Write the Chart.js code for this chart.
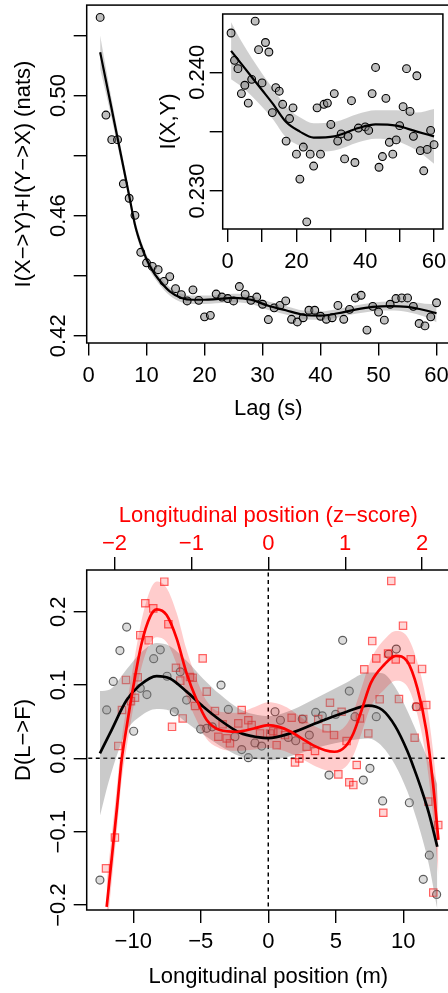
<!DOCTYPE html>
<html><head><meta charset="utf-8">
<script src="https://cdn.jsdelivr.net/npm/chart.js@4.4.1/dist/chart.umd.min.js"></script>
<style>
html,body{margin:0;padding:0;background:#fff;overflow:hidden;width:448px;height:993px;}
canvas{position:absolute;}
</style></head><body>
<canvas id="c1" width="460" height="430" style="left:0;top:0;width:460px;height:430px"></canvas>
<canvas id="c2" width="308" height="280" style="left:140px;top:0;width:308px;height:280px"></canvas>
<canvas id="c3" width="460" height="513" style="left:0;top:480px;width:460px;height:513px"></canvas>
<script>
// ---------- Top panel: I(X->Y)+I(Y->X) vs lag ----------
const mainLag = [2,3,4,5,6,7,8,9,10,11,12,13,14,15,16,17,18,19,20,21,22,23,24,25,26,27,28,29,30,31,32,33,34,35,36,37,38,39,40,41,42,43,44,45,46,47,48,49,50,51,52,53,54,55,56,57,58,59,60];
const mainMI = [0.526,0.4935,0.4853,0.4853,0.4706,0.4658,0.4601,0.4478,0.4443,0.4431,0.4420,0.4381,0.4397,0.4357,0.4337,0.4316,0.4353,0.4318,0.4263,0.4268,0.4339,0.4329,0.4324,0.4316,0.4364,0.4338,0.4318,0.4329,0.4305,0.4254,0.4293,0.4301,0.4316,0.4255,0.4246,0.4260,0.4285,0.4285,0.4265,0.4255,0.4260,0.4301,0.4255,0.4288,0.4326,0.4335,0.4219,0.4298,0.4279,0.4252,0.4305,0.4324,0.4326,0.4326,0.4298,0.4241,0.4233,0.4263,0.4310];
const mainFitLag = [2,3,4,5,6,7,8,9,10,11,12,14,16,18,20,22,25,28,31,34,37,40,43,46,49,52,55,58,60];
const mainFitMI = [0.5144,0.5049,0.4954,0.4858,0.4763,0.4667,0.4570,0.4505,0.4455,0.4418,0.4390,0.4348,0.4326,0.4320,0.4320,0.4322,0.4326,0.4320,0.4300,0.4285,0.4270,0.4267,0.4275,0.4287,0.4296,0.4299,0.4296,0.4285,0.4275];
const mainFitSE = [0.0056,0.0042,0.0032,0.0026,0.0022,0.0019,0.0017,0.0016,0.0015,0.0015,0.0014,0.0014,0.0014,0.0014,0.0014,0.0014,0.0014,0.0014,0.0014,0.0014,0.0014,0.0014,0.0014,0.0014,0.0014,0.0015,0.0017,0.0022,0.0030];
const mainXTicks = [0,10,20,30,40,50,60];
const mainXTickText = ['0','10','20','30','40','50','60'];
const mainYTicks = [0.42,0.44,0.46,0.48,0.50,0.52];
const mainYTickText = ['0.42','','0.46','','0.50',''];

// ---------- Inset: I(X,Y) vs lag ----------
const insetLag = [1,2,3,4,5,6,7,8,9,10,11,12,13,14,15,16,17,18,19,20,21,22,23,24,25,26,27,28,29,30,31,32,33,34,35,36,37,38,40,41,42,43,44,45,46,47,48,49,50,51,52,53,54,55,56,57,58,59,60];
const insetMI = [0.2433,0.2410,0.2403,0.2382,0.2389,0.2374,0.2394,0.2443,0.2419,0.2391,0.2425,0.2417,0.2366,0.2387,0.2384,0.2373,0.2342,0.2361,0.2370,0.2331,0.2310,0.2337,0.2274,0.2331,0.2321,0.2370,0.2331,0.2373,0.2374,0.2356,0.2382,0.2342,0.2348,0.2327,0.2346,0.2376,0.2324,0.2353,0.2354,0.2351,0.2382,0.2404,0.2320,0.2329,0.2378,0.2341,0.2331,0.2343,0.2355,0.2371,0.2403,0.2367,0.2346,0.2397,0.2334,0.2317,0.2335,0.2351,0.2339];
const insetFitLag = [1,4,7,10,13,17,21,25,31,38,43,49,55,60];
const insetFitMI = [0.2418,0.2407,0.2396,0.2385,0.2374,0.2358,0.2350,0.2345,0.2346,0.2353,0.2356,0.2355,0.2350,0.2346];
const insetFitSE = [0.0024,0.0019,0.0016,0.0014,0.0013,0.0013,0.0012,0.0012,0.0012,0.0012,0.0012,0.0013,0.0016,0.0023];
const insetXTicks = [0,10,20,30,40,50,60];
const insetXTickText = ['0','','20','','40','','60'];
const insetYTicks = [0.230,0.235,0.240];
const insetYTickText = ['0.230','','0.240'];

// ---------- Bottom panel: D(L->F) vs longitudinal position ----------
const blackPos = [-12.47,-11.97,-11.48,-10.99,-10.49,-9.97,-9.48,-8.99,-8.49,-8.0,-7.5,-6.96,-6.52,-6.05,-5.01,-4.56,-4.15,-3.5,-2.96,-2.47,-1.97,-1.48,-0.99,-0.49,0.5,0.9,1.48,2.03,2.52,3.04,3.51,4.0,4.5,4.99,5.51,6.0,6.42,7.04,7.53,8.0,8.47,8.92,9.48,10.45,10.96,11.48,11.93,12.47];
const blackD = [-0.166,0.066,0.105,0.147,0.179,0.037,0.0955,0.087,0.136,0.148,0.112,0.0636,0.118,0.0795,0.040,0.041,0.043,0.100,0.0668,0.0295,0.012,0.001,0.021,0.0168,0.0636,0.052,0.0286,0.024,0.0536,0.0318,0.0627,0.058,-0.0228,0.060,0.161,0.0918,0.0568,-0.0296,-0.0136,0.0568,-0.058,0.142,0.149,-0.0605,0.0704,-0.165,-0.132,-0.1855];
const redPos = [-12.02,-11.36,-11.11,-10.84,-10.54,-10.17,-9.87,-9.67,-9.48,-9.11,-8.86,-8.52,-7.7,-7.4,-7.13,-6.84,-6.52,-6.34,-5.8,-5.6,-5.43,-4.86,-4.56,-3.95,-3.7,-3.38,-3.08,-2.84,-2.22,-1.97,-1.48,-1.23,-0.61,0.13,0.37,0.62,0.74,1.24,1.73,1.98,2.3,2.59,2.84,3.46,3.7,4.32,4.57,4.87,5.19,5.43,5.8,6.0,6.3,6.55,6.79,7.11,7.41,7.7,8.0,8.25,8.52,8.87,9.11,9.44,9.68,9.98,10.55,10.84,11.01,11.39,11.7,11.85,12.22,12.59];
const redD = [-0.15,-0.108,0.017,0.066,0.107,0.078,0.0827,0.1105,0.168,0.2115,0.161,0.2046,0.241,0.183,0.043,0.1236,0.106,0.0545,0.111,0.110,0.0714,0.1364,0.091,0.0645,0.0295,0.0464,0.0273,0.0205,0.0477,0.066,0.052,0.0454,0.034,0.034,0.037,0.018,0.0355,0.0318,0.0554,-0.0055,0.0,0.0536,0.0159,0.01,0.0536,0.041,0.0759,0.0318,-0.0218,0.0636,0.0236,-0.0327,-0.0364,-0.0091,0.0545,0.1214,0.034,0.160,0.1364,0.0805,-0.0742,0.143,0.242,0.135,0.0809,0.181,0.135,0.0281,0.0704,0.122,0.0727,-0.059,-0.183,-0.091];
const blackFitPos = [-12.47,-11.73,-10.49,-9.5,-8.27,-7.28,-6.05,-4.81,-3.58,-2.1,-0.8,0.0,1.61,4.07,5.81,7.4,8.45,9.4,10.3,10.8,11.3,11.9,12.52];
const blackFitD = [0.0068,0.034,0.0795,0.100,0.1123,0.109,0.091,0.0704,0.0523,0.035,0.029,0.0275,0.034,0.052,0.0636,0.072,0.066,0.044,0.010,-0.014,-0.040,-0.075,-0.1206];
const blackFitSE = [0.085,0.06,0.042,0.043,0.045,0.044,0.042,0.038,0.035,0.032,0.030,0.030,0.031,0.035,0.040,0.045,0.050,0.053,0.055,0.058,0.062,0.070,0.085];
const redFitPos = [-11.97,-11.6,-11.2,-10.86,-10.49,-10.0,-9.38,-8.76,-8.27,-7.53,-6.79,-6.05,-5.3,-4.56,-3.58,-2.34,-1.0,0.0,0.8,1.6,2.5,3.3,4.2,4.9,5.7,6.3,6.9,7.6,8.6,9.45,10.3,11.05,11.7,12.2,12.6];
const redFitD = [-0.2025,-0.137,-0.066,-0.002,0.043,0.0977,0.157,0.193,0.2033,0.1955,0.1637,0.116,0.0795,0.0523,0.0386,0.0363,0.041,0.0454,0.043,0.037,0.027,0.018,0.011,0.009,0.016,0.034,0.065,0.103,0.128,0.1398,0.132,0.095,0.0386,-0.034,-0.111];
const redFitSE = [0.035,0.032,0.03,0.028,0.028,0.029,0.032,0.036,0.038,0.037,0.035,0.032,0.028,0.026,0.025,0.026,0.029,0.031,0.031,0.030,0.028,0.027,0.027,0.027,0.028,0.030,0.031,0.032,0.034,0.034,0.034,0.036,0.040,0.045,0.050];
const posTicks = [-10,-5,0,5,10];
const posTickText = ['\u221210','\u22125','0','5','10'];
const zTicks = [-2,-1,0,1,2];
const zTickText = ['\u22122','\u22121','0','1','2'];
const dTicks = [-0.2,-0.1,0.0,0.1,0.2];
const dTickText = ['\u22120.2','\u22120.1','0.0','0.1','0.2'];
const M_PER_Z = 5.698;           // metres per z-score unit
const refVX = [0,0], refVY = [-1,1];       // vertical dashed line at x = 0
const refHX = [-20,20], refHY = [0,0];     // horizontal dashed line at y = 0

// ---------- helpers ----------
const FONT = '22px "Liberation Sans", Arial, Helvetica, sans-serif';
const pts = (xs, ys) => xs.map((x, i) => ({x, y: ys[i]}));
const band = (xs, ys, se, s) => xs.map((x, i) => ({x, y: ys[i] + s * se[i]}));

const rAxes = {
  id: 'rAxes',
  beforeDatasetsDraw(chart, args, o) {
    if (!o.white) return;
    const a = chart.chartArea, c = chart.ctx;
    c.save(); c.fillStyle = '#fff'; c.fillRect(a.left, a.top, a.right - a.left, a.bottom - a.top); c.restore();
  },
  afterDraw(chart, args, o) {
    const c = chart.ctx, a = chart.chartArea;
    c.save();
    c.strokeStyle = '#000'; c.lineWidth = 1.5;
    c.strokeRect(a.left, a.top, a.right - a.left, a.bottom - a.top);
    c.font = FONT; c.textBaseline = 'alphabetic'; c.textAlign = 'center';
    (o.labels || []).forEach(L => {
      const sc = chart.scales[L.scale];
      c.fillStyle = L.color || '#000';
      L.values.forEach((v, i) => {
        const t = L.text[i]; if (!t) return;
        const p = sc.getPixelForValue(v);
        if (L.side === 'left') {
          c.save(); c.translate(a.left - L.offset, p); c.rotate(-Math.PI / 2); c.fillText(t, 0, 0); c.restore();
        } else if (L.side === 'bottom') {
          c.fillText(t, p, a.bottom + L.offset);
        } else {
          c.fillText(t, p, a.top - L.offset);
        }
      });
    });
    (o.titles || []).forEach(T => {
      c.fillStyle = T.color || '#000';
      if (T.side === 'left') {
        c.save(); c.translate(T.x, (a.top + a.bottom) / 2); c.rotate(-Math.PI / 2); c.fillText(T.text, 0, 0); c.restore();
      } else if (T.side === 'bottom') {
        c.fillText(T.text, (a.left + a.right) / 2, a.bottom + T.offset);
      } else {
        c.fillText(T.text, (a.left + a.right) / 2, a.top - T.offset);
      }
    });
    c.restore();
  }
};

function axis(pos, min, max, ticks, size, tl, extra) {
  return Object.assign({
    type: 'linear', position: pos, min, max,
    afterBuildTicks: s => { s.ticks = ticks.map(v => ({value: v})); },
    afterFit: s => { if (pos === 'left' || pos === 'right') s.width = size; else s.height = size; },
    grid: {display: true, drawOnChartArea: false, drawTicks: true, tickLength: tl, color: '#000', lineWidth: 1.4},
    border: {display: false},
    ticks: {display: false}
  }, extra || {});
}

const baseOpts = (padding, scales, rcfg) => ({
  responsive: false, animation: false, devicePixelRatio: 1, events: [],
  layout: {padding},
  plugins: {legend: {display: false}, tooltip: {enabled: false}, rAxes: rcfg},
  scales
});

const lineDs = (data, color, w) => ({data, borderColor: color, borderWidth: w, pointRadius: 0, fill: false, cubicInterpolationMode: 'monotone'});
const bandHi = (data, color) => ({data, borderColor: 'rgba(0,0,0,0)', borderWidth: 0, pointRadius: 0, fill: '+1', backgroundColor: color, cubicInterpolationMode: 'monotone'});
const bandLo = (data) => ({data, borderColor: 'rgba(0,0,0,0)', borderWidth: 0, pointRadius: 0, fill: false, cubicInterpolationMode: 'monotone'});

// ---------- chart 1: main ----------
new Chart(document.getElementById('c1'), {
  type: 'line',
  data: {datasets: [
    lineDs(pts(mainFitLag, mainFitMI), '#000', 2.2),
    {data: pts(mainLag, mainMI), showLine: false, pointStyle: 'circle', pointRadius: 3.9, pointBackgroundColor: 'rgba(128,128,128,0.5)', pointBorderColor: '#000', pointBorderWidth: 1.1},
    bandHi(band(mainFitLag, mainFitMI, mainFitSE, 1), 'rgba(150,150,150,0.45)'),
    bandLo(band(mainFitLag, mainFitMI, mainFitSE, -1))
  ]},
  options: baseOpts({left: 0, top: 2.7, right: 10, bottom: 0}, {
    x: axis('bottom', -0.32, 62.32, mainXTicks, 87, 12.5),
    y: axis('left', 0.4176, 0.5301, mainYTicks, 86.7, 13)
  }, {
    labels: [
      {scale: 'y', side: 'left', values: mainYTicks, text: mainYTickText, offset: 22.2},
      {scale: 'x', side: 'bottom', values: mainXTicks, text: mainXTickText, offset: 38.7}
    ],
    titles: [
      {side: 'left', text: 'I(X\u2212>Y)+I(Y\u2212>X) (nats)', x: 29.5},
      {side: 'bottom', text: 'Lag (s)', offset: 72}
    ]
  }),
  plugins: [rAxes]
});

// ---------- chart 2: inset ----------
new Chart(document.getElementById('c2'), {
  type: 'line',
  data: {datasets: [
    lineDs(pts(insetFitLag, insetFitMI), '#000', 2.2),
    {data: pts(insetLag, insetMI), showLine: false, pointStyle: 'circle', pointRadius: 3.9, pointBackgroundColor: 'rgba(128,128,128,0.5)', pointBorderColor: '#000', pointBorderWidth: 1.1},
    bandHi(band(insetFitLag, insetFitMI, insetFitSE, 1), 'rgba(150,150,150,0.45)'),
    bandLo(band(insetFitLag, insetFitMI, insetFitSE, -1))
  ]},
  options: baseOpts({left: 0, top: 14, right: 1.3, bottom: 0}, {
    x: axis('bottom', -1.43, 62.57, insetXTicks, 51, 13),
    y: axis('left', 0.2268, 0.2449, insetYTicks, 82.7, 13)
  }, {
    white: true,
    labels: [
      {scale: 'y', side: 'left', values: insetYTicks, text: insetYTickText, offset: 19.2},
      {scale: 'x', side: 'bottom', values: insetXTicks, text: insetXTickText, offset: 39.3}
    ],
    titles: [
      {side: 'left', text: 'I(X,Y)', x: 35.3}
    ]
  }),
  plugins: [rAxes]
});

// ---------- chart 3: bottom ----------
const xMin = -13.45, xMax = 13.46;
new Chart(document.getElementById('c3'), {
  type: 'line',
  data: {datasets: [
    Object.assign(lineDs(pts(redFitPos, redFitD), '#ff0000', 2.7), {xAxisID: 'x'}),
    Object.assign(lineDs(pts(blackFitPos, blackFitD), '#000', 2.7), {xAxisID: 'x'}),
    Object.assign(bandHi(band(redFitPos, redFitD, redFitSE, 1), 'rgba(255,0,0,0.2)'), {xAxisID: 'x'}),
    Object.assign(bandLo(band(redFitPos, redFitD, redFitSE, -1)), {xAxisID: 'x'}),
    Object.assign(bandHi(band(blackFitPos, blackFitD, blackFitSE, 1), 'rgba(128,128,128,0.42)'), {xAxisID: 'x'}),
    Object.assign(bandLo(band(blackFitPos, blackFitD, blackFitSE, -1)), {xAxisID: 'x'}),
    {xAxisID: 'x', data: pts(redPos, redD), showLine: false, pointStyle: 'rect', pointRadius: 5.2, pointBackgroundColor: 'rgba(255,0,0,0.16)', pointBorderColor: 'rgba(255,0,0,0.6)', pointBorderWidth: 1.2},
    {xAxisID: 'x', data: pts(blackPos, blackD), showLine: false, pointStyle: 'circle', pointRadius: 4.0, pointBackgroundColor: 'rgba(128,128,128,0.28)', pointBorderColor: 'rgba(0,0,0,0.6)', pointBorderWidth: 1.2},
    {xAxisID: 'x', data: pts(refVX, refVY), borderColor: '#000', borderWidth: 1.5, borderDash: [4, 3.5], pointRadius: 0, fill: false},
    {xAxisID: 'x', data: pts(refHX, refHY), borderColor: '#000', borderWidth: 1.5, borderDash: [4, 3.5], pointRadius: 0, fill: false}
  ]},
  options: baseOpts({left: 0, top: 0, right: 10, bottom: 0}, {
    x: axis('bottom', xMin, xMax, posTicks, 83, 13, {axis: 'x'}),
    x2: axis('top', xMin / M_PER_Z, xMax / M_PER_Z, zTicks, 90, 13, {axis: 'x'}),
    y: axis('left', -0.2068, 0.2569, dTicks, 86.7, 13)
  }, {
    labels: [
      {scale: 'y', side: 'left', values: dTicks, text: dTickText, offset: 22},
      {scale: 'x', side: 'bottom', values: posTicks, text: posTickText, offset: 38.3},
      {scale: 'x2', side: 'top', values: zTicks, text: zTickText, offset: 20, color: '#ff0000'}
    ],
    titles: [
      {side: 'left', text: 'D(L\u2212>F)', x: 29.5},
      {side: 'bottom', text: 'Longitudinal position (m)', offset: 73},
      {side: 'top', text: 'Longitudinal position (z\u2212score)', offset: 48.3, color: '#ff0000'}
    ]
  }),
  plugins: [rAxes]
});
</script>
</body></html>
